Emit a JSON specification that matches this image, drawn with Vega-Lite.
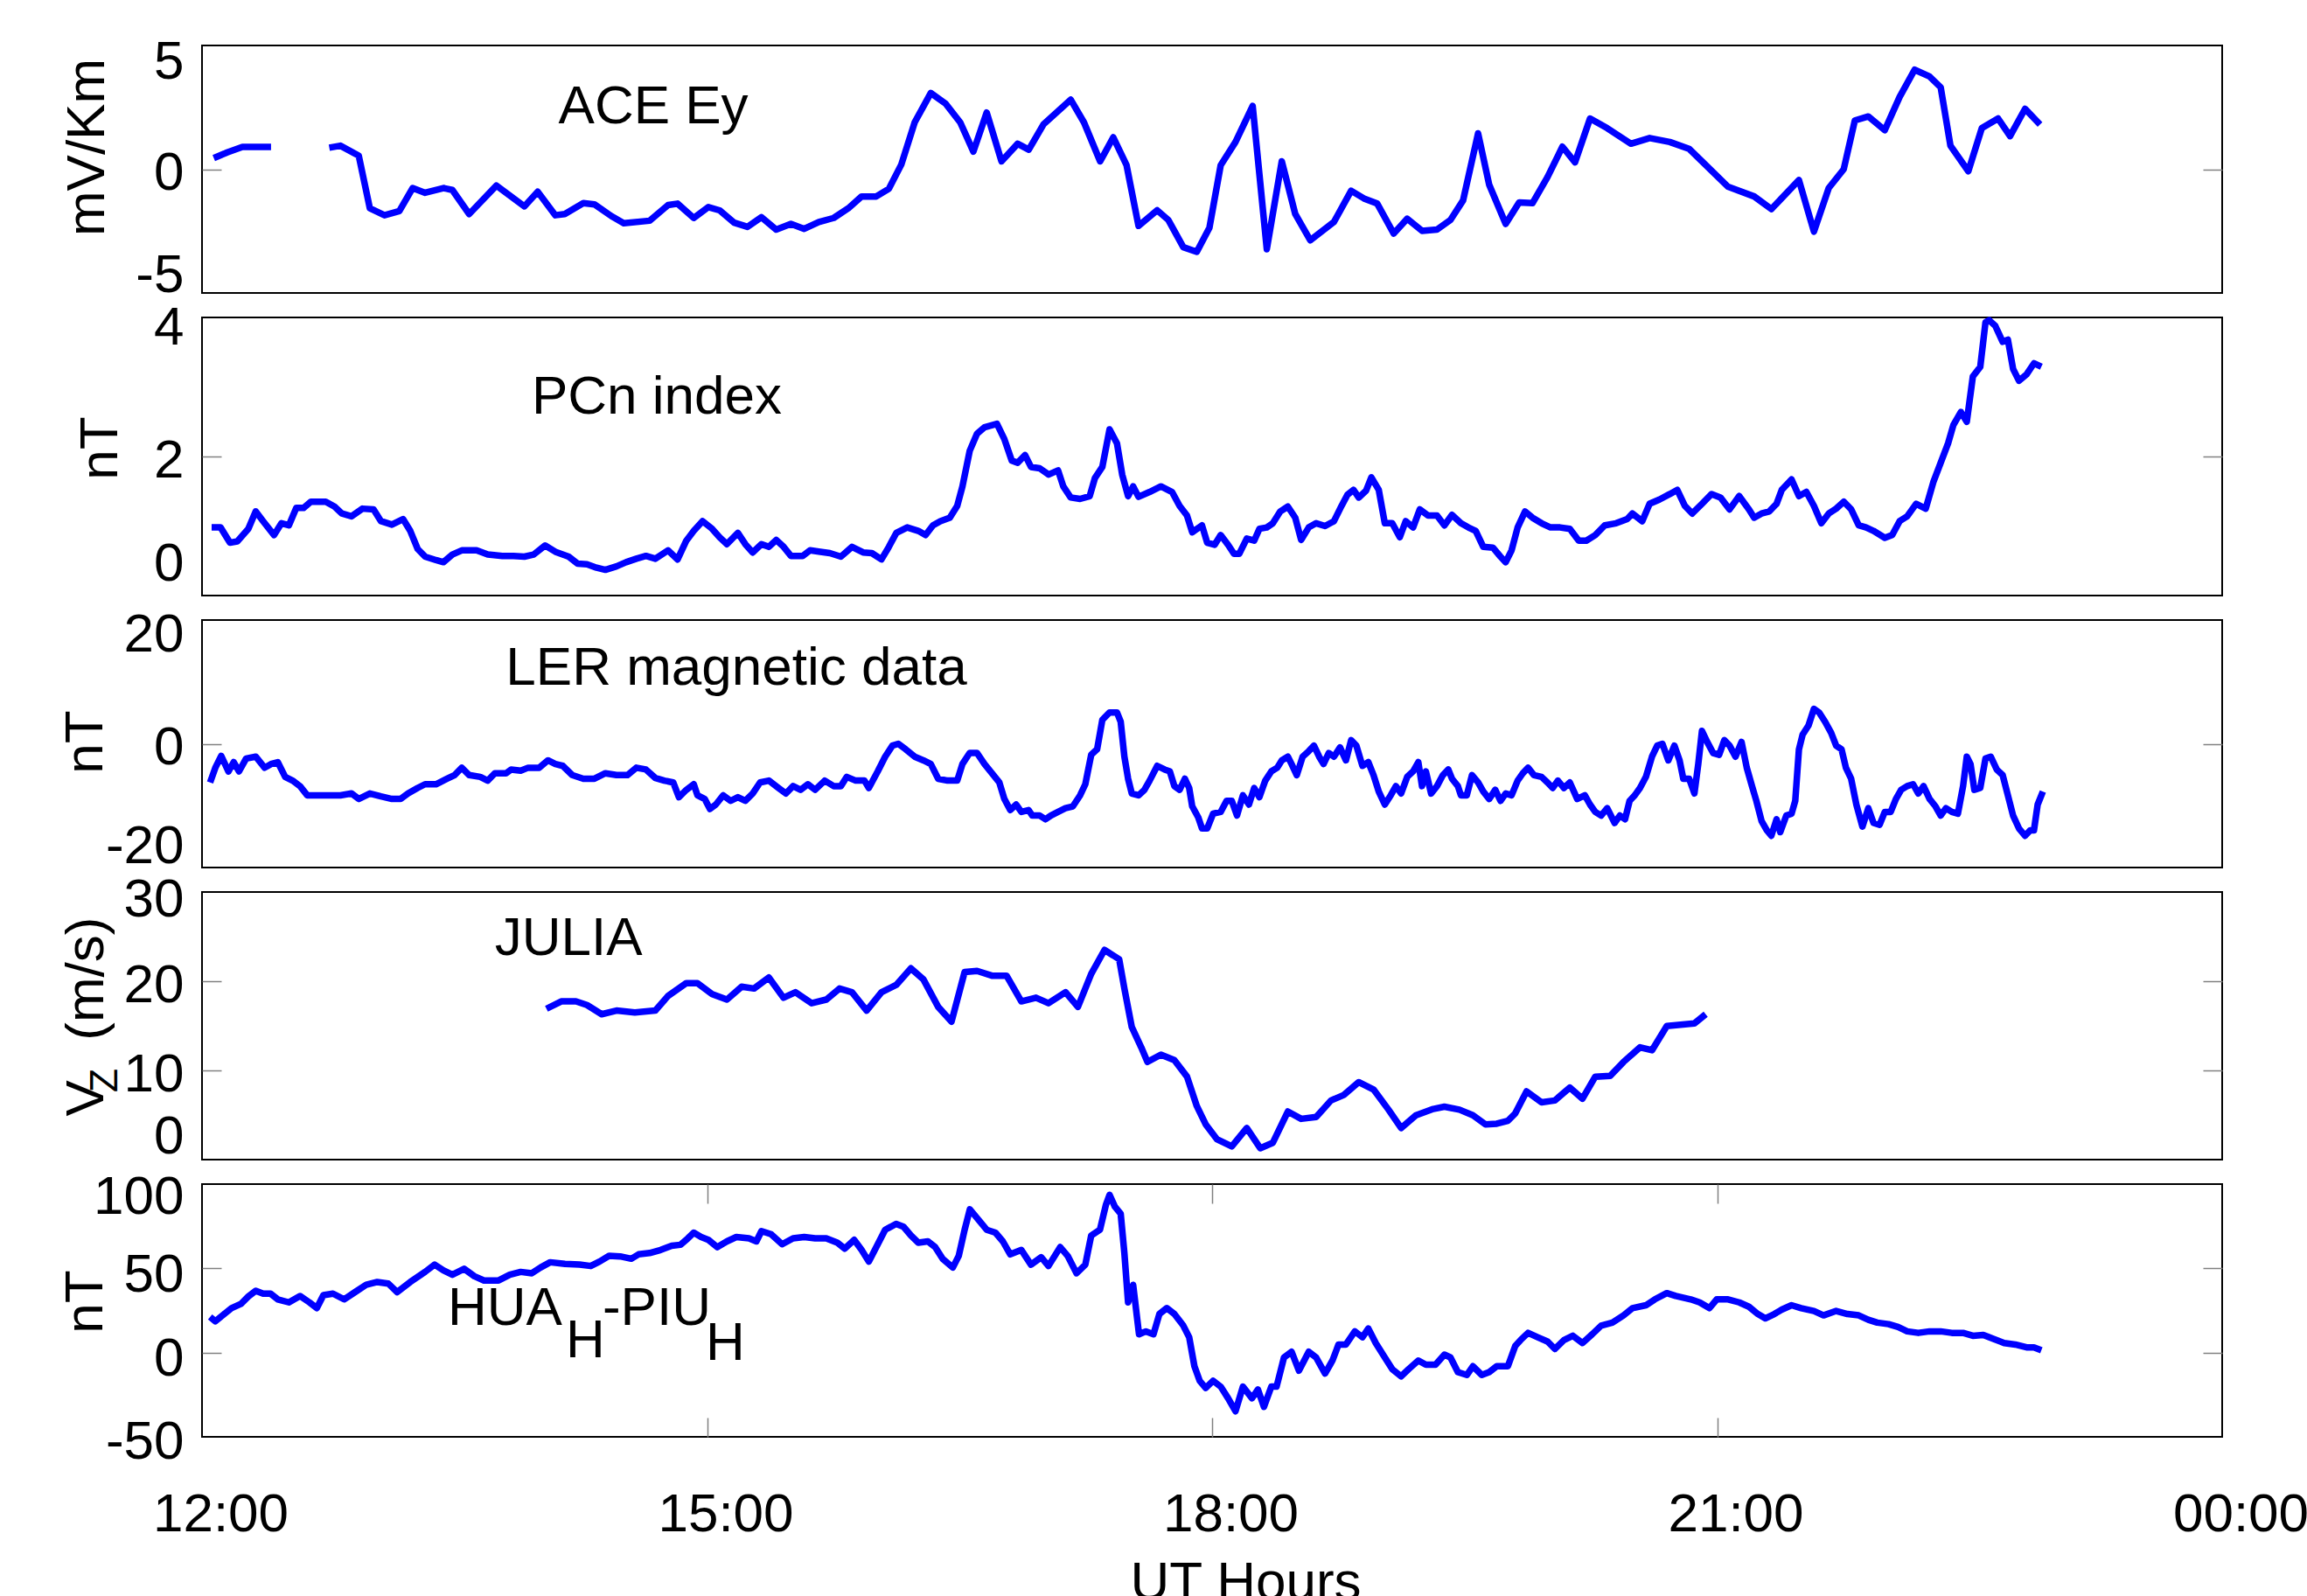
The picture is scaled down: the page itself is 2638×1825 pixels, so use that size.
{
 "$schema": "https://vega.github.io/schema/vega-lite/v6.json",
 "background": "white",
 "padding": {"left": 65, "top": 38, "right": 0, "bottom": -13},
 "spacing": 28,
 "bounds": "flush",
 "config": {
  "view": {"stroke": "black", "strokeWidth": 2},
  "font": "Liberation Sans",
  "axis": {"domain": false, "grid": false, "ticks": true, "tickSize": -22, "tickColor": "#808080", "tickWidth": 1.5,
   "labelFont": "Liberation Sans", "labelFontSize": 62, "labelColor": "black", "labelPadding": 43, "labelFlush": false, "labelOverlap": false,
   "titleFont": "Liberation Sans", "titleFontSize": 62, "titleFontWeight": "normal", "titleColor": "black"},
  "axisY": {"titleAngle": 270, "titleBaseline": "alphabetic", "titleAlign": "center", "labelExpr": "'' + datum.value"},
  "line": {"color": "#0000ff", "strokeWidth": 7.5, "strokeJoin": "round"}
 },
 "datasets": {
  "ace": [
   {"t":12.07,"v":0.45,"seg":1},{"t":12.15,"v":0.68,"seg":1},{"t":12.24,"v":0.9,"seg":1},{"t":12.41,"v":0.9,"seg":1},
   {"t":12.756,"v":0.87,"seg":2},{"t":12.822,"v":0.95,"seg":2},{"t":12.931,"v":0.55,"seg":2},{"t":12.997,"v":-1.58,"seg":2},{"t":13.084,"v":-1.86,"seg":2},{"t":13.172,"v":-1.69,"seg":2},{"t":13.251,"v":-0.76,"seg":2},{"t":13.325,"v":-0.95,"seg":2},{"t":13.434,"v":-0.76,"seg":2},{"t":13.487,"v":-0.84,"seg":2},{"t":13.587,"v":-1.81,"seg":2},{"t":13.749,"v":-0.66,"seg":2},{"t":13.915,"v":-1.5,"seg":2},{"t":13.994,"v":-0.91,"seg":2},{"t":14.099,"v":-1.86,"seg":2},{"t":14.155,"v":-1.81,"seg":2},{"t":14.265,"v":-1.37,"seg":2},{"t":14.331,"v":-1.42,"seg":2},{"t":14.431,"v":-1.89,"seg":2},{"t":14.505,"v":-2.18,"seg":2},{"t":14.659,"v":-2.08,"seg":2},{"t":14.768,"v":-1.45,"seg":2},{"t":14.825,"v":-1.39,"seg":2},{"t":14.921,"v":-1.97,"seg":2},{"t":15.008,"v":-1.53,"seg":2},{"t":15.074,"v":-1.66,"seg":2},{"t":15.161,"v":-2.16,"seg":2},{"t":15.24,"v":-2.33,"seg":2},{"t":15.323,"v":-1.94,"seg":2},{"t":15.411,"v":-2.44,"seg":2},{"t":15.498,"v":-2.21,"seg":2},{"t":15.577,"v":-2.41,"seg":2},{"t":15.664,"v":-2.13,"seg":2},{"t":15.752,"v":-1.97,"seg":2},{"t":15.839,"v":-1.58,"seg":2},{"t":15.918,"v":-1.1,"seg":2},{"t":16.005,"v":-1.1,"seg":2},{"t":16.08,"v":-0.79,"seg":2},{"t":16.154,"v":0.19,"seg":2},{"t":16.233,"v":1.89,"seg":2},{"t":16.329,"v":3.08,"seg":2},{"t":16.417,"v":2.65,"seg":2},{"t":16.504,"v":1.89,"seg":2},{"t":16.582,"v":0.71,"seg":2},{"t":16.661,"v":2.29,"seg":2},{"t":16.749,"v":0.32,"seg":2},{"t":16.845,"v":1.03,"seg":2},{"t":16.911,"v":0.79,"seg":2},{"t":16.998,"v":1.81,"seg":2},{"t":17.16,"v":2.81,"seg":2},{"t":17.239,"v":1.89,"seg":2},{"t":17.335,"v":0.32,"seg":2},{"t":17.413,"v":1.29,"seg":2},{"t":17.492,"v":0.16,"seg":2},{"t":17.563,"v":-2.29,"seg":2},{"t":17.674,"v":-1.66,"seg":2},{"t":17.74,"v":-2.05,"seg":2},{"t":17.829,"v":-3.15,"seg":2},{"t":17.909,"v":-3.34,"seg":2},{"t":17.984,"v":-2.37,"seg":2},{"t":18.051,"v":0.16,"seg":2},{"t":18.139,"v":1.1,"seg":2},{"t":18.241,"v":2.56,"seg":2},{"t":18.325,"v":-3.23,"seg":2},{"t":18.414,"v":0.32,"seg":2},{"t":18.494,"v":-1.81,"seg":2},{"t":18.583,"v":-2.87,"seg":2},{"t":18.724,"v":-2.13,"seg":2},{"t":18.826,"v":-0.87,"seg":2},{"t":18.902,"v":-1.18,"seg":2},{"t":18.981,"v":-1.39,"seg":2},{"t":19.079,"v":-2.6,"seg":2},{"t":19.159,"v":-2.0,"seg":2},{"t":19.247,"v":-2.49,"seg":2},{"t":19.336,"v":-2.44,"seg":2},{"t":19.416,"v":-2.05,"seg":2},{"t":19.491,"v":-1.26,"seg":2},{"t":19.58,"v":1.45,"seg":2},{"t":19.646,"v":-0.63,"seg":2},{"t":19.744,"v":-2.21,"seg":2},{"t":19.824,"v":-1.34,"seg":2},{"t":19.903,"v":-1.37,"seg":2},{"t":19.992,"v":-0.32,"seg":2},{"t":20.081,"v":0.91,"seg":2},{"t":20.156,"v":0.28,"seg":2},{"t":20.245,"v":2.05,"seg":2},{"t":20.347,"v":1.66,"seg":2},{"t":20.488,"v":1.03,"seg":2},{"t":20.599,"v":1.26,"seg":2},{"t":20.719,"v":1.1,"seg":2},{"t":20.834,"v":0.82,"seg":2},{"t":20.91,"v":0.32,"seg":2},{"t":21.065,"v":-0.71,"seg":2},{"t":21.22,"v":-1.1,"seg":2},{"t":21.322,"v":-1.61,"seg":2},{"t":21.486,"v":-0.44,"seg":2},{"t":21.575,"v":-2.52,"seg":2},{"t":21.663,"v":-0.76,"seg":2},{"t":21.752,"v":0.0,"seg":2},{"t":21.818,"v":1.97,"seg":2},{"t":21.898,"v":2.13,"seg":2},{"t":21.996,"v":1.58,"seg":2},{"t":22.084,"v":2.92,"seg":2},{"t":22.173,"v":4.02,"seg":2},{"t":22.261,"v":3.75,"seg":2},{"t":22.328,"v":3.31,"seg":2},{"t":22.386,"v":0.95,"seg":2},{"t":22.492,"v":-0.08,"seg":2},{"t":22.572,"v":1.66,"seg":2},{"t":22.669,"v":2.05,"seg":2},{"t":22.74,"v":1.34,"seg":2},{"t":22.829,"v":2.44,"seg":2},{"t":22.918,"v":1.81,"seg":2}
  ],
  "pcn": [
   {"t":12.057,"v":0.98},{"t":12.11,"v":0.98},{"t":12.166,"v":0.76},{"t":12.21,"v":0.78},{"t":12.275,"v":0.96},{"t":12.319,"v":1.21},{"t":12.363,"v":1.07},{"t":12.428,"v":0.87},{"t":12.472,"v":1.04},{"t":12.516,"v":1.01},{"t":12.56,"v":1.26},{"t":12.603,"v":1.26},{"t":12.647,"v":1.35},{"t":12.735,"v":1.35},{"t":12.787,"v":1.28},{"t":12.831,"v":1.18},{"t":12.888,"v":1.14},{"t":12.953,"v":1.25},{"t":13.019,"v":1.24},{"t":13.063,"v":1.07},{"t":13.128,"v":1.02},{"t":13.194,"v":1.1},{"t":13.237,"v":0.93},{"t":13.281,"v":0.67},{"t":13.325,"v":0.56},{"t":13.39,"v":0.51},{"t":13.434,"v":0.48},{"t":13.487,"v":0.59},{"t":13.543,"v":0.65},{"t":13.631,"v":0.65},{"t":13.697,"v":0.59},{"t":13.784,"v":0.57},{"t":13.85,"v":0.57},{"t":13.915,"v":0.56},{"t":13.97,"v":0.59},{"t":14.038,"v":0.72},{"t":14.099,"v":0.63},{"t":14.178,"v":0.56},{"t":14.231,"v":0.46},{"t":14.287,"v":0.45},{"t":14.344,"v":0.4},{"t":14.396,"v":0.37},{"t":14.462,"v":0.42},{"t":14.519,"v":0.48},{"t":14.58,"v":0.53},{"t":14.637,"v":0.57},{"t":14.693,"v":0.53},{"t":14.768,"v":0.65},{"t":14.825,"v":0.52},{"t":14.877,"v":0.79},{"t":14.921,"v":0.93},{"t":14.973,"v":1.07},{"t":15.03,"v":0.96},{"t":15.074,"v":0.84},{"t":15.118,"v":0.74},{"t":15.183,"v":0.9},{"t":15.227,"v":0.74},{"t":15.271,"v":0.62},{"t":15.323,"v":0.74},{"t":15.367,"v":0.7},{"t":15.411,"v":0.8},{"t":15.455,"v":0.7},{"t":15.498,"v":0.57},{"t":15.568,"v":0.57},{"t":15.612,"v":0.65},{"t":15.673,"v":0.63},{"t":15.73,"v":0.61},{"t":15.795,"v":0.56},{"t":15.861,"v":0.7},{"t":15.927,"v":0.62},{"t":15.979,"v":0.61},{"t":16.036,"v":0.52},{"t":16.08,"v":0.7},{"t":16.124,"v":0.9},{"t":16.189,"v":0.98},{"t":16.255,"v":0.93},{"t":16.298,"v":0.87},{"t":16.342,"v":1.01},{"t":16.386,"v":1.07},{"t":16.442,"v":1.12},{"t":16.486,"v":1.29},{"t":16.517,"v":1.57},{"t":16.56,"v":2.08},{"t":16.604,"v":2.33},{"t":16.648,"v":2.42},{"t":16.722,"v":2.47},{"t":16.766,"v":2.25},{"t":16.81,"v":1.94},{"t":16.845,"v":1.91},{"t":16.889,"v":2.02},{"t":16.924,"v":1.85},{"t":16.976,"v":1.83},{"t":17.029,"v":1.74},{"t":17.085,"v":1.8},{"t":17.116,"v":1.57},{"t":17.16,"v":1.41},{"t":17.216,"v":1.39},{"t":17.273,"v":1.43},{"t":17.304,"v":1.69},{"t":17.348,"v":1.85},{"t":17.391,"v":2.39},{"t":17.435,"v":2.19},{"t":17.466,"v":1.74},{"t":17.501,"v":1.43},{"t":17.531,"v":1.57},{"t":17.563,"v":1.42},{"t":17.629,"v":1.49},{"t":17.696,"v":1.57},{"t":17.762,"v":1.49},{"t":17.807,"v":1.29},{"t":17.851,"v":1.15},{"t":17.882,"v":0.91},{"t":17.94,"v":1.01},{"t":17.971,"v":0.76},{"t":18.015,"v":0.73},{"t":18.051,"v":0.87},{"t":18.095,"v":0.73},{"t":18.13,"v":0.6},{"t":18.161,"v":0.6},{"t":18.206,"v":0.82},{"t":18.25,"v":0.79},{"t":18.281,"v":0.96},{"t":18.325,"v":0.98},{"t":18.361,"v":1.04},{"t":18.405,"v":1.21},{"t":18.45,"v":1.28},{"t":18.494,"v":1.12},{"t":18.529,"v":0.8},{"t":18.574,"v":0.98},{"t":18.618,"v":1.04},{"t":18.671,"v":1.0},{"t":18.724,"v":1.07},{"t":18.769,"v":1.29},{"t":18.804,"v":1.45},{"t":18.84,"v":1.52},{"t":18.871,"v":1.41},{"t":18.915,"v":1.51},{"t":18.946,"v":1.7},{"t":18.99,"v":1.52},{"t":19.026,"v":1.04},{"t":19.07,"v":1.04},{"t":19.115,"v":0.84},{"t":19.15,"v":1.07},{"t":19.194,"v":0.98},{"t":19.234,"v":1.24},{"t":19.283,"v":1.15},{"t":19.336,"v":1.15},{"t":19.38,"v":1.01},{"t":19.425,"v":1.16},{"t":19.478,"v":1.04},{"t":19.522,"v":0.98},{"t":19.566,"v":0.93},{"t":19.611,"v":0.7},{"t":19.668,"v":0.69},{"t":19.713,"v":0.56},{"t":19.744,"v":0.48},{"t":19.779,"v":0.65},{"t":19.815,"v":0.98},{"t":19.859,"v":1.21},{"t":19.903,"v":1.12},{"t":19.957,"v":1.04},{"t":20.01,"v":0.98},{"t":20.067,"v":0.98},{"t":20.125,"v":0.96},{"t":20.178,"v":0.79},{"t":20.223,"v":0.79},{"t":20.276,"v":0.87},{"t":20.333,"v":1.01},{"t":20.4,"v":1.04},{"t":20.466,"v":1.1},{"t":20.497,"v":1.18},{"t":20.555,"v":1.07},{"t":20.599,"v":1.32},{"t":20.657,"v":1.38},{"t":20.719,"v":1.46},{"t":20.763,"v":1.52},{"t":20.808,"v":1.29},{"t":20.852,"v":1.18},{"t":20.91,"v":1.32},{"t":20.967,"v":1.46},{"t":21.02,"v":1.41},{"t":21.074,"v":1.24},{"t":21.131,"v":1.43},{"t":21.189,"v":1.24},{"t":21.22,"v":1.12},{"t":21.264,"v":1.18},{"t":21.309,"v":1.21},{"t":21.353,"v":1.32},{"t":21.384,"v":1.52},{"t":21.442,"v":1.67},{"t":21.486,"v":1.43},{"t":21.53,"v":1.49},{"t":21.575,"v":1.29},{"t":21.619,"v":1.04},{"t":21.663,"v":1.18},{"t":21.707,"v":1.25},{"t":21.752,"v":1.35},{"t":21.796,"v":1.24},{"t":21.841,"v":1.01},{"t":21.885,"v":0.98},{"t":21.929,"v":0.93},{"t":21.996,"v":0.83},{"t":22.04,"v":0.87},{"t":22.084,"v":1.07},{"t":22.129,"v":1.14},{"t":22.182,"v":1.32},{"t":22.239,"v":1.25},{"t":22.284,"v":1.63},{"t":22.328,"v":1.91},{"t":22.372,"v":2.19},{"t":22.403,"v":2.45},{"t":22.448,"v":2.64},{"t":22.483,"v":2.5},{"t":22.519,"v":3.15},{"t":22.563,"v":3.29},{"t":22.594,"v":3.93},{"t":22.616,"v":3.96},{"t":22.652,"v":3.88},{"t":22.696,"v":3.65},{"t":22.727,"v":3.68},{"t":22.758,"v":3.26},{"t":22.793,"v":3.09},{"t":22.838,"v":3.18},{"t":22.882,"v":3.34},{"t":22.926,"v":3.29}
  ],
  "ler": [
   {"t":12.048,"v":-6.25},{"t":12.079,"v":-3.87},{"t":12.114,"v":-1.96},{"t":12.157,"v":-4.46},{"t":12.188,"v":-2.97},{"t":12.22,"v":-4.46},{"t":12.262,"v":-2.38},{"t":12.319,"v":-2.08},{"t":12.372,"v":-3.87},{"t":12.41,"v":-3.27},{"t":12.45,"v":-2.97},{"t":12.494,"v":-5.35},{"t":12.538,"v":-5.95},{"t":12.582,"v":-6.84},{"t":12.625,"v":-8.33},{"t":12.691,"v":-8.33},{"t":12.822,"v":-8.33},{"t":12.888,"v":-8.03},{"t":12.931,"v":-8.92},{"t":12.997,"v":-8.03},{"t":13.063,"v":-8.51},{"t":13.128,"v":-8.92},{"t":13.18,"v":-8.92},{"t":13.224,"v":-8.03},{"t":13.281,"v":-7.14},{"t":13.325,"v":-6.54},{"t":13.39,"v":-6.54},{"t":13.456,"v":-5.65},{"t":13.5,"v":-5.06},{"t":13.543,"v":-3.87},{"t":13.587,"v":-5.06},{"t":13.653,"v":-5.35},{"t":13.697,"v":-5.95},{"t":13.74,"v":-4.76},{"t":13.806,"v":-4.76},{"t":13.836,"v":-4.16},{"t":13.893,"v":-4.34},{"t":13.937,"v":-3.87},{"t":14.003,"v":-3.87},{"t":14.055,"v":-2.68},{"t":14.099,"v":-3.27},{"t":14.143,"v":-3.57},{"t":14.199,"v":-5.06},{"t":14.265,"v":-5.65},{"t":14.331,"v":-5.65},{"t":14.396,"v":-4.76},{"t":14.462,"v":-5.06},{"t":14.527,"v":-5.06},{"t":14.58,"v":-3.87},{"t":14.637,"v":-4.16},{"t":14.693,"v":-5.53},{"t":14.746,"v":-5.95},{"t":14.799,"v":-6.25},{"t":14.833,"v":-8.63},{"t":14.877,"v":-7.44},{"t":14.921,"v":-6.54},{"t":14.943,"v":-8.33},{"t":14.986,"v":-8.92},{"t":15.017,"v":-10.53},{"t":15.052,"v":-9.82},{"t":15.096,"v":-8.33},{"t":15.14,"v":-9.22},{"t":15.183,"v":-8.63},{"t":15.227,"v":-9.22},{"t":15.271,"v":-8.03},{"t":15.315,"v":-6.25},{"t":15.367,"v":-5.95},{"t":15.424,"v":-7.14},{"t":15.468,"v":-8.03},{"t":15.511,"v":-6.84},{"t":15.555,"v":-7.44},{"t":15.599,"v":-6.54},{"t":15.642,"v":-7.44},{"t":15.699,"v":-5.95},{"t":15.752,"v":-6.84},{"t":15.795,"v":-6.84},{"t":15.83,"v":-5.35},{"t":15.883,"v":-5.95},{"t":15.935,"v":-5.95},{"t":15.961,"v":-7.14},{"t":16.014,"v":-4.46},{"t":16.058,"v":-2.08},{"t":16.101,"v":-0.3},{"t":16.136,"v":0.0},{"t":16.18,"v":-0.89},{"t":16.233,"v":-2.08},{"t":16.285,"v":-2.68},{"t":16.329,"v":-3.27},{"t":16.373,"v":-5.65},{"t":16.429,"v":-5.95},{"t":16.486,"v":-5.95},{"t":16.517,"v":-3.27},{"t":16.56,"v":-1.49},{"t":16.604,"v":-1.49},{"t":16.648,"v":-3.27},{"t":16.692,"v":-4.76},{"t":16.736,"v":-6.25},{"t":16.766,"v":-8.92},{"t":16.801,"v":-10.71},{"t":16.836,"v":-9.82},{"t":16.867,"v":-11.01},{"t":16.91,"v":-10.71},{"t":16.932,"v":-11.6},{"t":16.976,"v":-11.6},{"t":17.011,"v":-12.2},{"t":17.042,"v":-11.6},{"t":17.085,"v":-11.01},{"t":17.129,"v":-10.41},{"t":17.173,"v":-10.11},{"t":17.216,"v":-8.33},{"t":17.247,"v":-6.54},{"t":17.282,"v":-1.78},{"t":17.317,"v":-0.89},{"t":17.348,"v":3.87},{"t":17.391,"v":5.06},{"t":17.435,"v":5.06},{"t":17.457,"v":3.57},{"t":17.479,"v":-2.08},{"t":17.501,"v":-5.65},{"t":17.523,"v":-8.03},{"t":17.563,"v":-8.33},{"t":17.598,"v":-7.44},{"t":17.629,"v":-5.95},{"t":17.674,"v":-3.57},{"t":17.718,"v":-4.16},{"t":17.749,"v":-4.46},{"t":17.776,"v":-6.84},{"t":17.807,"v":-7.44},{"t":17.838,"v":-5.65},{"t":17.864,"v":-7.14},{"t":17.882,"v":-10.11},{"t":17.918,"v":-11.9},{"t":17.94,"v":-13.68},{"t":17.971,"v":-13.68},{"t":18.006,"v":-11.3},{"t":18.051,"v":-11.01},{"t":18.086,"v":-9.22},{"t":18.117,"v":-9.22},{"t":18.148,"v":-11.6},{"t":18.183,"v":-8.33},{"t":18.219,"v":-9.82},{"t":18.25,"v":-7.14},{"t":18.281,"v":-8.63},{"t":18.316,"v":-5.95},{"t":18.352,"v":-4.46},{"t":18.387,"v":-3.87},{"t":18.414,"v":-2.68},{"t":18.45,"v":-2.08},{"t":18.472,"v":-3.27},{"t":18.503,"v":-5.06},{"t":18.538,"v":-2.08},{"t":18.574,"v":-1.19},{"t":18.605,"v":-0.3},{"t":18.636,"v":-2.08},{"t":18.662,"v":-3.27},{"t":18.693,"v":-1.49},{"t":18.724,"v":-2.08},{"t":18.76,"v":-0.59},{"t":18.795,"v":-2.68},{"t":18.826,"v":0.59},{"t":18.857,"v":-0.3},{"t":18.893,"v":-3.57},{"t":18.928,"v":-2.97},{"t":18.959,"v":-5.06},{"t":18.99,"v":-7.73},{"t":19.026,"v":-9.82},{"t":19.061,"v":-8.33},{"t":19.092,"v":-6.84},{"t":19.123,"v":-8.03},{"t":19.159,"v":-5.35},{"t":19.194,"v":-4.46},{"t":19.225,"v":-2.97},{"t":19.247,"v":-6.84},{"t":19.27,"v":-4.46},{"t":19.301,"v":-8.03},{"t":19.336,"v":-6.84},{"t":19.371,"v":-5.06},{"t":19.403,"v":-4.16},{"t":19.425,"v":-5.65},{"t":19.46,"v":-6.84},{"t":19.478,"v":-8.33},{"t":19.513,"v":-8.33},{"t":19.544,"v":-5.06},{"t":19.58,"v":-6.25},{"t":19.611,"v":-7.73},{"t":19.646,"v":-8.92},{"t":19.682,"v":-7.44},{"t":19.713,"v":-9.22},{"t":19.744,"v":-8.03},{"t":19.779,"v":-8.33},{"t":19.815,"v":-5.95},{"t":19.846,"v":-4.76},{"t":19.877,"v":-3.87},{"t":19.912,"v":-5.06},{"t":19.957,"v":-5.35},{"t":19.992,"v":-6.25},{"t":20.023,"v":-7.14},{"t":20.054,"v":-5.95},{"t":20.09,"v":-7.14},{"t":20.125,"v":-6.25},{"t":20.169,"v":-8.92},{"t":20.214,"v":-8.33},{"t":20.245,"v":-9.82},{"t":20.276,"v":-11.01},{"t":20.311,"v":-11.6},{"t":20.347,"v":-10.41},{"t":20.391,"v":-12.79},{"t":20.422,"v":-11.6},{"t":20.453,"v":-12.2},{"t":20.48,"v":-9.22},{"t":20.511,"v":-8.33},{"t":20.542,"v":-7.14},{"t":20.577,"v":-5.35},{"t":20.613,"v":-2.08},{"t":20.644,"v":-0.3},{"t":20.675,"v":0.0},{"t":20.71,"v":-2.68},{"t":20.746,"v":-0.3},{"t":20.777,"v":-2.68},{"t":20.799,"v":-5.65},{"t":20.834,"v":-5.65},{"t":20.865,"v":-8.03},{"t":20.888,"v":-3.27},{"t":20.91,"v":2.08},{"t":20.941,"v":0.3},{"t":20.976,"v":-1.49},{"t":21.012,"v":-1.78},{"t":21.043,"v":0.59},{"t":21.074,"v":-0.3},{"t":21.109,"v":-2.08},{"t":21.145,"v":0.3},{"t":21.176,"v":-3.87},{"t":21.207,"v":-6.84},{"t":21.233,"v":-9.22},{"t":21.264,"v":-12.49},{"t":21.295,"v":-13.98},{"t":21.322,"v":-14.87},{"t":21.353,"v":-12.2},{"t":21.375,"v":-14.28},{"t":21.411,"v":-11.6},{"t":21.442,"v":-11.3},{"t":21.464,"v":-9.22},{"t":21.486,"v":-0.89},{"t":21.508,"v":1.49},{"t":21.543,"v":2.97},{"t":21.575,"v":5.65},{"t":21.606,"v":5.06},{"t":21.641,"v":3.57},{"t":21.677,"v":1.78},{"t":21.707,"v":-0.3},{"t":21.739,"v":-0.89},{"t":21.765,"v":-3.87},{"t":21.796,"v":-5.65},{"t":21.827,"v":-9.82},{"t":21.863,"v":-13.39},{"t":21.898,"v":-10.41},{"t":21.929,"v":-12.79},{"t":21.965,"v":-13.09},{"t":21.996,"v":-11.01},{"t":22.031,"v":-11.01},{"t":22.062,"v":-8.92},{"t":22.093,"v":-7.44},{"t":22.129,"v":-6.84},{"t":22.164,"v":-6.54},{"t":22.195,"v":-8.03},{"t":22.226,"v":-6.84},{"t":22.262,"v":-8.92},{"t":22.297,"v":-10.11},{"t":22.328,"v":-11.6},{"t":22.359,"v":-10.41},{"t":22.394,"v":-11.01},{"t":22.43,"v":-11.3},{"t":22.461,"v":-6.84},{"t":22.483,"v":-2.08},{"t":22.505,"v":-3.27},{"t":22.528,"v":-7.44},{"t":22.563,"v":-7.14},{"t":22.594,"v":-2.38},{"t":22.625,"v":-2.08},{"t":22.661,"v":-4.16},{"t":22.696,"v":-5.06},{"t":22.727,"v":-8.33},{"t":22.758,"v":-11.6},{"t":22.793,"v":-13.68},{"t":22.829,"v":-14.87},{"t":22.86,"v":-13.98},{"t":22.882,"v":-13.98},{"t":22.904,"v":-9.82},{"t":22.935,"v":-7.73}
  ],
  "julia": [
   {"t":14.046,"v":16.91},{"t":14.134,"v":17.74},{"t":14.221,"v":17.74},{"t":14.287,"v":17.33},{"t":14.374,"v":16.3},{"t":14.462,"v":16.71},{"t":14.571,"v":16.5},{"t":14.693,"v":16.71},{"t":14.768,"v":18.35},{"t":14.877,"v":19.79},{"t":14.943,"v":19.79},{"t":15.03,"v":18.56},{"t":15.118,"v":17.94},{"t":15.205,"v":19.38},{"t":15.279,"v":19.18},{"t":15.367,"v":20.41},{"t":15.454,"v":18.15},{"t":15.525,"v":18.77},{"t":15.621,"v":17.53},{"t":15.708,"v":17.94},{"t":15.787,"v":19.18},{"t":15.861,"v":18.77},{"t":15.948,"v":16.71},{"t":16.036,"v":18.77},{"t":16.124,"v":19.59},{"t":16.211,"v":21.44},{"t":16.285,"v":20.21},{"t":16.373,"v":17.12},{"t":16.452,"v":15.47},{"t":16.53,"v":21.03},{"t":16.604,"v":21.15},{"t":16.692,"v":20.62},{"t":16.779,"v":20.62},{"t":16.867,"v":17.74},{"t":16.954,"v":18.15},{"t":17.028,"v":17.53},{"t":17.129,"v":18.77},{"t":17.203,"v":17.12},{"t":17.282,"v":20.82},{"t":17.361,"v":23.5},{"t":17.448,"v":22.47},{"t":17.479,"v":19.18},{"t":17.523,"v":14.86},{"t":17.579,"v":12.59},{"t":17.616,"v":10.95},{"t":17.696,"v":11.77},{"t":17.776,"v":11.15},{"t":17.851,"v":9.3},{"t":17.909,"v":6.01},{"t":17.962,"v":3.95},{"t":18.028,"v":2.3},{"t":18.117,"v":1.48},{"t":18.206,"v":3.54},{"t":18.286,"v":1.28},{"t":18.361,"v":1.89},{"t":18.45,"v":5.39},{"t":18.529,"v":4.57},{"t":18.618,"v":4.77},{"t":18.706,"v":6.63},{"t":18.782,"v":7.24},{"t":18.871,"v":8.68},{"t":18.959,"v":7.86},{"t":19.048,"v":5.6},{"t":19.123,"v":3.54},{"t":19.212,"v":4.98},{"t":19.314,"v":5.68},{"t":19.38,"v":5.93},{"t":19.469,"v":5.6},{"t":19.549,"v":4.98},{"t":19.624,"v":3.95},{"t":19.691,"v":4.03},{"t":19.757,"v":4.36},{"t":19.801,"v":5.19},{"t":19.868,"v":7.65},{"t":19.957,"v":6.42},{"t":20.036,"v":6.63},{"t":20.125,"v":8.07},{"t":20.2,"v":6.83},{"t":20.276,"v":9.3},{"t":20.364,"v":9.38},{"t":20.444,"v":10.95},{"t":20.542,"v":12.59},{"t":20.613,"v":12.26},{"t":20.701,"v":14.98},{"t":20.865,"v":15.27},{"t":20.932,"v":16.3}
  ],
  "hua": [
   {"t":12.048,"v":21.2},{"t":12.079,"v":18.6},{"t":12.122,"v":22.1},{"t":12.175,"v":26.4},{"t":12.232,"v":29.0},{"t":12.275,"v":33.3},{"t":12.319,"v":36.7},{"t":12.363,"v":35.0},{"t":12.407,"v":35.0},{"t":12.45,"v":31.6},{"t":12.516,"v":29.8},{"t":12.582,"v":33.6},{"t":12.638,"v":29.8},{"t":12.682,"v":26.4},{"t":12.721,"v":34.1},{"t":12.778,"v":35.0},{"t":12.844,"v":31.6},{"t":12.909,"v":35.9},{"t":12.975,"v":40.2},{"t":13.041,"v":41.9},{"t":13.106,"v":41.0},{"t":13.159,"v":35.9},{"t":13.237,"v":41.9},{"t":13.325,"v":47.9},{"t":13.382,"v":52.2},{"t":13.434,"v":48.8},{"t":13.487,"v":46.2},{"t":13.557,"v":49.7},{"t":13.618,"v":45.3},{"t":13.675,"v":42.8},{"t":13.762,"v":42.8},{"t":13.828,"v":46.2},{"t":13.893,"v":47.9},{"t":13.959,"v":47.1},{"t":14.011,"v":50.5},{"t":14.068,"v":53.6},{"t":14.156,"v":52.6},{"t":14.243,"v":52.2},{"t":14.309,"v":51.4},{"t":14.361,"v":54.0},{"t":14.418,"v":57.4},{"t":14.484,"v":57.1},{"t":14.55,"v":55.7},{"t":14.593,"v":58.3},{"t":14.659,"v":59.1},{"t":14.724,"v":60.9},{"t":14.79,"v":63.4},{"t":14.842,"v":64.0},{"t":14.886,"v":67.8},{"t":14.921,"v":71.2},{"t":14.965,"v":68.6},{"t":15.008,"v":66.9},{"t":15.061,"v":62.6},{"t":15.118,"v":66.0},{"t":15.174,"v":68.6},{"t":15.249,"v":67.8},{"t":15.293,"v":66.0},{"t":15.323,"v":72.1},{"t":15.38,"v":70.3},{"t":15.446,"v":64.3},{"t":15.511,"v":67.8},{"t":15.577,"v":68.6},{"t":15.642,"v":67.8},{"t":15.708,"v":67.8},{"t":15.774,"v":65.2},{"t":15.818,"v":61.7},{"t":15.874,"v":66.9},{"t":15.918,"v":60.9},{"t":15.961,"v":54.0},{"t":16.014,"v":64.3},{"t":16.058,"v":72.9},{"t":16.123,"v":76.4},{"t":16.167,"v":74.7},{"t":16.211,"v":69.5},{"t":16.255,"v":65.2},{"t":16.312,"v":66.0},{"t":16.355,"v":62.6},{"t":16.399,"v":55.7},{"t":16.46,"v":50.5},{"t":16.495,"v":57.4},{"t":16.53,"v":72.9},{"t":16.561,"v":85.0},{"t":16.604,"v":79.8},{"t":16.661,"v":72.9},{"t":16.713,"v":71.2},{"t":16.757,"v":66.0},{"t":16.801,"v":58.3},{"t":16.867,"v":60.9},{"t":16.924,"v":52.2},{"t":16.985,"v":56.6},{"t":17.028,"v":51.4},{"t":17.098,"v":62.6},{"t":17.142,"v":57.4},{"t":17.195,"v":47.1},{"t":17.247,"v":52.2},{"t":17.282,"v":69.5},{"t":17.334,"v":72.9},{"t":17.369,"v":87.6},{"t":17.391,"v":93.6},{"t":17.422,"v":86.7},{"t":17.457,"v":82.4},{"t":17.479,"v":59.1},{"t":17.501,"v":29.8},{"t":17.531,"v":40.2},{"t":17.566,"v":10.9},{"t":17.607,"v":12.6},{"t":17.652,"v":10.9},{"t":17.687,"v":22.9},{"t":17.731,"v":26.4},{"t":17.776,"v":22.9},{"t":17.829,"v":16.0},{"t":17.864,"v":9.1},{"t":17.895,"v":-8.1},{"t":17.926,"v":-16.7},{"t":17.962,"v":-21.0},{"t":18.006,"v":-16.7},{"t":18.051,"v":-20.2},{"t":18.095,"v":-27.1},{"t":18.139,"v":-34.8},{"t":18.183,"v":-20.2},{"t":18.237,"v":-27.1},{"t":18.272,"v":-21.9},{"t":18.308,"v":-32.2},{"t":18.352,"v":-20.2},{"t":18.383,"v":-20.2},{"t":18.427,"v":-2.9},{"t":18.472,"v":0.5},{"t":18.516,"v":-10.7},{"t":18.574,"v":0.5},{"t":18.618,"v":-2.9},{"t":18.671,"v":-12.4},{"t":18.715,"v":-4.7},{"t":18.751,"v":4.8},{"t":18.795,"v":4.8},{"t":18.848,"v":12.6},{"t":18.893,"v":9.1},{"t":18.928,"v":14.3},{"t":18.972,"v":5.7},{"t":19.026,"v":-2.9},{"t":19.07,"v":-9.8},{"t":19.123,"v":-14.1},{"t":19.168,"v":-9.8},{"t":19.225,"v":-4.7},{"t":19.27,"v":-7.2},{"t":19.327,"v":-7.2},{"t":19.38,"v":-1.2},{"t":19.416,"v":-2.9},{"t":19.46,"v":-11.6},{"t":19.513,"v":-13.3},{"t":19.549,"v":-8.1},{"t":19.602,"v":-13.3},{"t":19.646,"v":-11.6},{"t":19.691,"v":-8.1},{"t":19.757,"v":-8.1},{"t":19.801,"v":4.0},{"t":19.832,"v":7.4},{"t":19.877,"v":11.7},{"t":19.934,"v":9.1},{"t":19.992,"v":6.6},{"t":20.036,"v":2.2},{"t":20.09,"v":7.4},{"t":20.143,"v":10.0},{"t":20.2,"v":5.7},{"t":20.258,"v":10.9},{"t":20.311,"v":16.0},{"t":20.378,"v":17.8},{"t":20.444,"v":22.1},{"t":20.497,"v":26.4},{"t":20.577,"v":28.1},{"t":20.63,"v":31.6},{"t":20.701,"v":35.3},{"t":20.754,"v":33.6},{"t":20.843,"v":31.6},{"t":20.896,"v":29.8},{"t":20.954,"v":26.4},{"t":20.998,"v":31.6},{"t":21.065,"v":31.6},{"t":21.131,"v":29.8},{"t":21.189,"v":27.2},{"t":21.242,"v":22.9},{"t":21.286,"v":20.3},{"t":21.34,"v":22.9},{"t":21.384,"v":25.5},{"t":21.442,"v":28.1},{"t":21.499,"v":26.4},{"t":21.575,"v":24.7},{"t":21.632,"v":22.1},{"t":21.707,"v":24.7},{"t":21.774,"v":22.9},{"t":21.841,"v":22.1},{"t":21.898,"v":19.5},{"t":21.951,"v":17.8},{"t":22.018,"v":16.9},{"t":22.075,"v":15.2},{"t":22.129,"v":12.6},{"t":22.195,"v":11.7},{"t":22.262,"v":12.6},{"t":22.328,"v":12.6},{"t":22.394,"v":11.7},{"t":22.461,"v":11.7},{"t":22.519,"v":10.0},{"t":22.581,"v":10.5},{"t":22.638,"v":8.3},{"t":22.705,"v":5.7},{"t":22.771,"v":4.8},{"t":22.838,"v":3.1},{"t":22.882,"v":3.1},{"t":22.926,"v":1.4}
  ]
 },
 "vconcat": [
  {
   "width": 2310, "height": 283,
   "layer": [
    {"data": {"name": "ace"},
     "mark": {"type": "line"},
     "encoding": {
      "x": {"field": "t", "type": "quantitative", "scale": {"domain": [12, 24], "nice": false, "zero": false}, "axis": null},
      "y": {"field": "v", "type": "quantitative", "scale": {"domain": [-5, 5], "nice": false, "zero": false},
       "axis": {"orient": "left", "values": [-5, 0, 5], "title": "mV/Km", "titleX": -113, "titleY": 116,
        "labelOffset": {"condition": [{"test": "datum.value == 5", "value": 18}, {"test": "datum.value == -5", "value": -21}], "value": 4},
        "tickOpacity": {"condition": {"test": "abs(datum.value) == 5", "value": 0}, "value": 1}}},
      "detail": {"field": "seg", "type": "nominal"}
     }},
    {"data": {"values": [{}]},
     "mark": {"type": "point", "opacity": 0},
     "encoding": {
      "x": {"datum": 12, "type": "quantitative", "scale": {"domain": [12, 24], "nice": false, "zero": false}, "axis": null},
      "y": {"datum": 0, "type": "quantitative", "scale": {"domain": [-5, 5], "nice": false, "zero": false},
       "axis": {"orient": "right", "values": [0], "labels": false, "title": null}}
     }},
    {"data": {"values": [{}]},
     "mark": {"type": "text", "font": "Liberation Sans", "fontSize": 62, "color": "black", "align": "center", "baseline": "alphabetic"},
     "encoding": {
      "x": {"datum": 14.681, "type": "quantitative", "scale": {"domain": [12, 24], "nice": false, "zero": false}, "axis": null},
      "y": {"datum": 1.86, "type": "quantitative", "scale": {"domain": [-5, 5], "nice": false, "zero": false}, "axis": null},
      "text": {"value": "ACE Ey"}
     }}
   ],
   "resolve": {"axis": {"x": "independent", "y": "independent"}}
  },
  {
   "width": 2310, "height": 318,
   "layer": [
    {"data": {"name": "pcn"},
     "mark": {"type": "line"},
     "encoding": {
      "x": {"field": "t", "type": "quantitative", "scale": {"domain": [12, 24], "nice": false, "zero": false}, "axis": null},
      "y": {"field": "v", "type": "quantitative", "scale": {"domain": [0, 4], "nice": false, "zero": false},
       "axis": {"orient": "left", "values": [0, 2, 4], "title": "nT", "titleX": -98, "titleY": 149,
        "labelOffset": {"condition": [{"test": "datum.value == 4", "value": 11}, {"test": "datum.value == 0", "value": -37}], "value": 4},
        "tickOpacity": {"condition": {"test": "datum.value == 0 || datum.value == 4", "value": 0}, "value": 1}}}
     }},
    {"data": {"values": [{}]},
     "mark": {"type": "point", "opacity": 0},
     "encoding": {
      "x": {"datum": 12, "type": "quantitative", "scale": {"domain": [12, 24], "nice": false, "zero": false}, "axis": null},
      "y": {"datum": 2, "type": "quantitative", "scale": {"domain": [0, 4], "nice": false, "zero": false},
       "axis": {"orient": "right", "values": [2], "labels": false, "title": null}}
     }},
    {"data": {"values": [{}]},
     "mark": {"type": "text", "font": "Liberation Sans", "fontSize": 62, "color": "black", "align": "center", "baseline": "alphabetic"},
     "encoding": {
      "x": {"datum": 14.701, "type": "quantitative", "scale": {"domain": [12, 24], "nice": false, "zero": false}, "axis": null},
      "y": {"datum": 2.615, "type": "quantitative", "scale": {"domain": [0, 4], "nice": false, "zero": false}, "axis": null},
      "text": {"value": "PCn index"}
     }}
   ],
   "resolve": {"axis": {"x": "independent", "y": "independent"}}
  },
  {
   "width": 2310, "height": 283,
   "layer": [
    {"data": {"name": "ler"},
     "mark": {"type": "line"},
     "encoding": {
      "x": {"field": "t", "type": "quantitative", "scale": {"domain": [12, 24], "nice": false, "zero": false}, "axis": null},
      "y": {"field": "v", "type": "quantitative", "scale": {"domain": [-20, 20], "nice": false, "zero": false},
       "axis": {"orient": "left", "values": [-20, 0, 20], "title": "nT", "titleX": -115, "titleY": 139,
        "labelOffset": {"condition": [{"test": "datum.value == 20", "value": 16}, {"test": "datum.value == -20", "value": -25}], "value": 4},
        "tickOpacity": {"condition": {"test": "abs(datum.value) == 20", "value": 0}, "value": 1}}}
     }},
    {"data": {"values": [{}]},
     "mark": {"type": "point", "opacity": 0},
     "encoding": {
      "x": {"datum": 12, "type": "quantitative", "scale": {"domain": [12, 24], "nice": false, "zero": false}, "axis": null},
      "y": {"datum": 0, "type": "quantitative", "scale": {"domain": [-20, 20], "nice": false, "zero": false},
       "axis": {"orient": "right", "values": [0], "labels": false, "title": null}}
     }},
    {"data": {"values": [{}]},
     "mark": {"type": "text", "font": "Liberation Sans", "fontSize": 62, "color": "black", "align": "center", "baseline": "alphabetic"},
     "encoding": {
      "x": {"datum": 15.174, "type": "quantitative", "scale": {"domain": [12, 24], "nice": false, "zero": false}, "axis": null},
      "y": {"datum": 9.47, "type": "quantitative", "scale": {"domain": [-20, 20], "nice": false, "zero": false}, "axis": null},
      "text": {"value": "LER magnetic data"}
     }}
   ],
   "resolve": {"axis": {"x": "independent", "y": "independent"}}
  },
  {
   "width": 2310, "height": 306,
   "layer": [
    {"data": {"name": "julia"},
     "mark": {"type": "line"},
     "encoding": {
      "x": {"field": "t", "type": "quantitative", "scale": {"domain": [12, 24], "nice": false, "zero": false}, "axis": null},
      "y": {"field": "v", "type": "quantitative", "scale": {"domain": [0, 30], "nice": false, "zero": false},
       "axis": {"orient": "left", "values": [0, 10, 20, 30], "title": null,
        "labelOffset": {"condition": [{"test": "datum.value == 30", "value": 8}, {"test": "datum.value == 0", "value": -27}], "value": 4},
        "tickOpacity": {"condition": {"test": "datum.value == 0 || datum.value == 30", "value": 0}, "value": 1}}}
     }},
    {"data": {"values": [{}]},
     "mark": {"type": "point", "opacity": 0},
     "encoding": {
      "x": {"datum": 12, "type": "quantitative", "scale": {"domain": [12, 24], "nice": false, "zero": false}, "axis": null},
      "y": {"datum": 10, "type": "quantitative", "scale": {"domain": [0, 30], "nice": false, "zero": false},
       "axis": {"orient": "right", "values": [10, 20], "labels": false, "title": null}}
     }},
    {"data": {"values": [{}]},
     "mark": {"type": "text", "font": "Liberation Sans", "fontSize": 62, "color": "black", "align": "center", "baseline": "alphabetic"},
     "encoding": {
      "x": {"datum": 14.177, "type": "quantitative", "scale": {"domain": [12, 24], "nice": false, "zero": false}, "axis": null},
      "y": {"datum": 22.93, "type": "quantitative", "scale": {"domain": [0, 30], "nice": false, "zero": false}, "axis": null},
      "text": {"value": "JULIA"}
     }},
    {"data": {"values": [{}]},
     "mark": {"type": "text", "font": "Liberation Sans", "fontSize": 62, "color": "black", "align": "center", "baseline": "alphabetic", "angle": 270},
     "encoding": {
      "x": {"datum": 11.413, "type": "quantitative", "scale": {"domain": [12, 24], "nice": false, "zero": false}, "axis": null},
      "y": {"datum": 6.88, "type": "quantitative", "scale": {"domain": [0, 30], "nice": false, "zero": false}, "axis": null},
      "text": {"value": "V"}
     }},
    {"data": {"values": [{}]},
     "mark": {"type": "text", "font": "Liberation Sans", "fontSize": 45, "color": "black", "align": "center", "baseline": "alphabetic", "angle": 270},
     "encoding": {
      "x": {"datum": 11.496, "type": "quantitative", "scale": {"domain": [12, 24], "nice": false, "zero": false}, "axis": null},
      "y": {"datum": 8.88, "type": "quantitative", "scale": {"domain": [0, 30], "nice": false, "zero": false}, "axis": null},
      "text": {"value": "Z"}
     }},
    {"data": {"values": [{}]},
     "mark": {"type": "text", "font": "Liberation Sans", "fontSize": 62, "color": "black", "align": "center", "baseline": "alphabetic", "angle": 270},
     "encoding": {
      "x": {"datum": 11.413, "type": "quantitative", "scale": {"domain": [12, 24], "nice": false, "zero": false}, "axis": null},
      "y": {"datum": 20.28, "type": "quantitative", "scale": {"domain": [0, 30], "nice": false, "zero": false}, "axis": null},
      "text": {"value": "(m/s)"}
     }}
   ],
   "resolve": {"axis": {"x": "independent", "y": "independent"}}
  },
  {
   "width": 2310, "height": 289,
   "layer": [
    {"data": {"name": "hua"},
     "mark": {"type": "line"},
     "encoding": {
      "x": {"field": "t", "type": "quantitative", "scale": {"domain": [12, 24], "nice": false, "zero": false},
       "axis": {"orient": "bottom", "values": [12, 15, 18, 21, 24],
        "labelExpr": "datum.value == 24 ? '00:00' : format(datum.value, '02d') + ':00'",
        "labelPadding": 80, "labelOffset": 21, "labelFlush": false,
        "tickOpacity": {"condition": {"test": "datum.value == 12 || datum.value == 24", "value": 0}, "value": 1},
        "title": "UT Hours", "titleX": 1193, "titleY": 185, "titleAngle": 0, "titleBaseline": "alphabetic", "titleAlign": "center"}},
      "y": {"field": "v", "type": "quantitative", "scale": {"domain": [-50, 100], "nice": false, "zero": false},
       "axis": {"orient": "left", "values": [-50, 0, 50, 100], "title": "nT", "titleX": -115, "titleY": 134,
        "labelOffset": {"condition": [{"test": "datum.value == 100", "value": 14}, {"test": "datum.value == -50", "value": 5}], "value": 7},
        "tickOpacity": {"condition": {"test": "datum.value == -50 || datum.value == 100", "value": 0}, "value": 1}}}
     }},
    {"data": {"values": [{}]},
     "mark": {"type": "point", "opacity": 0},
     "encoding": {
      "x": {"datum": 12, "type": "quantitative", "scale": {"domain": [12, 24], "nice": false, "zero": false},
       "axis": {"orient": "top", "values": [15, 18, 21], "labels": false, "title": null}},
      "y": {"datum": 0, "type": "quantitative", "scale": {"domain": [-50, 100], "nice": false, "zero": false},
       "axis": {"orient": "right", "values": [0, 50], "labels": false, "title": null}}
     }},
    {"data": {"values": [{}]},
     "mark": {"type": "text", "font": "Liberation Sans", "fontSize": 62, "color": "black", "align": "left", "baseline": "alphabetic"},
     "encoding": {
      "x": {"datum": 13.46, "type": "quantitative", "scale": {"domain": [12, 24], "nice": false, "zero": false}, "axis": null},
      "y": {"datum": 16.28, "type": "quantitative", "scale": {"domain": [-50, 100], "nice": false, "zero": false}, "axis": null},
      "text": {"value": "HUA"}
     }},
    {"data": {"values": [{}]},
     "mark": {"type": "text", "font": "Liberation Sans", "fontSize": 62, "color": "black", "align": "left", "baseline": "alphabetic"},
     "encoding": {
      "x": {"datum": 14.161, "type": "quantitative", "scale": {"domain": [12, 24], "nice": false, "zero": false}, "axis": null},
      "y": {"datum": -2.92, "type": "quantitative", "scale": {"domain": [-50, 100], "nice": false, "zero": false}, "axis": null},
      "text": {"value": "H"}
     }},
    {"data": {"values": [{}]},
     "mark": {"type": "text", "font": "Liberation Sans", "fontSize": 62, "color": "black", "align": "left", "baseline": "alphabetic"},
     "encoding": {
      "x": {"datum": 14.379, "type": "quantitative", "scale": {"domain": [12, 24], "nice": false, "zero": false}, "axis": null},
      "y": {"datum": 16.28, "type": "quantitative", "scale": {"domain": [-50, 100], "nice": false, "zero": false}, "axis": null},
      "text": {"value": "-PIU"}
     }},
    {"data": {"values": [{}]},
     "mark": {"type": "text", "font": "Liberation Sans", "fontSize": 62, "color": "black", "align": "left", "baseline": "alphabetic"},
     "encoding": {
      "x": {"datum": 14.992, "type": "quantitative", "scale": {"domain": [12, 24], "nice": false, "zero": false}, "axis": null},
      "y": {"datum": -4.48, "type": "quantitative", "scale": {"domain": [-50, 100], "nice": false, "zero": false}, "axis": null},
      "text": {"value": "H"}
     }}
   ],
   "resolve": {"axis": {"x": "independent", "y": "independent"}}
  }
 ]
}
